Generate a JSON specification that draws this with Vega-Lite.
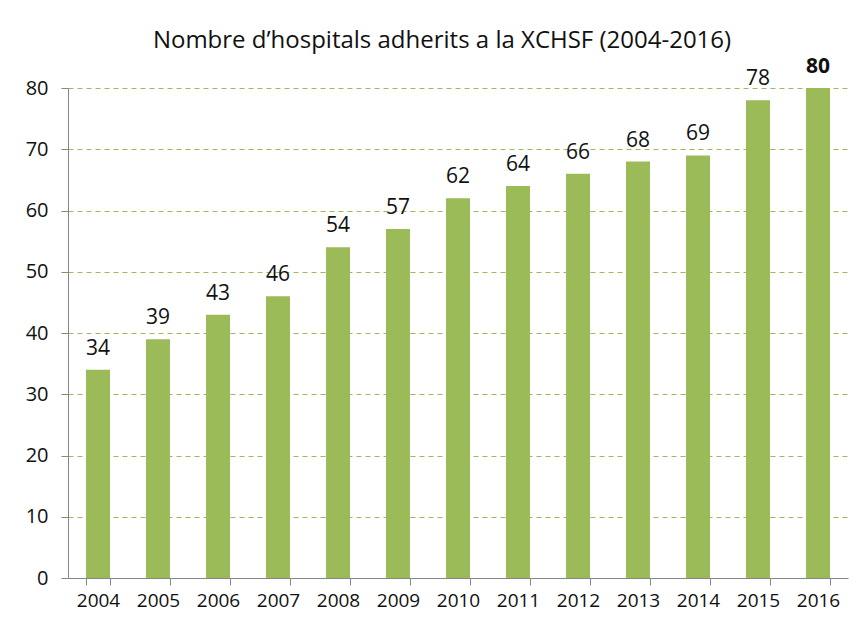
{
  "$schema": "https://vega.github.io/schema/vega-lite/v6.json",
  "width": 780,
  "height": 490,
  "autosize": {"type": "none"},
  "padding": {"left": 68, "top": 88, "right": 15, "bottom": 52},
  "background": "white",
  "title": {
    "text": "Nombre d’hospitals adherits a la XCHSF (2004-2016)",
    "font": "Open Sans",
    "fontSize": 24,
    "fontWeight": "normal",
    "color": "#111111",
    "anchor": "middle",
    "dx": -16,
    "offset": 3
  },
  "config": {
    "view": {"stroke": null},
    "font": "Open Sans"
  },
  "data": {
    "values": [
      {"year": "2004", "value": 34, "bold": "n"},
      {"year": "2005", "value": 39, "bold": "n"},
      {"year": "2006", "value": 43, "bold": "n"},
      {"year": "2007", "value": 46, "bold": "n"},
      {"year": "2008", "value": 54, "bold": "n"},
      {"year": "2009", "value": 57, "bold": "n"},
      {"year": "2010", "value": 62, "bold": "n"},
      {"year": "2011", "value": 64, "bold": "n"},
      {"year": "2012", "value": 66, "bold": "n"},
      {"year": "2013", "value": 68, "bold": "n"},
      {"year": "2014", "value": 69, "bold": "n"},
      {"year": "2015", "value": 78, "bold": "n"},
      {"year": "2016", "value": 80, "bold": "y"}
    ]
  },
  "encoding": {
    "x": {
      "field": "year",
      "type": "ordinal",
      "scale": {"paddingInner": 0.6, "paddingOuter": 0.3},
      "axis": {
        "title": null,
        "labelAngle": 0,
        "labelFontSize": 19,
        "labelColor": "#111111",
        "labelPadding": 6,
        "domainColor": "#868686",
        "tickColor": "#868686",
        "tickBand": "extent",
        "tickSize": 7,
        "grid": false
      }
    },
    "y": {
      "field": "value",
      "type": "quantitative",
      "scale": {"domain": [0, 80], "nice": false},
      "axis": {
        "title": null,
        "values": [0, 10, 20, 30, 40, 50, 60, 70, 80],
        "labelFontSize": 20,
        "labelColor": "#111111",
        "labelPadding": 13,
        "domainColor": "#868686",
        "tickColor": "#868686",
        "tickSize": 7,
        "grid": true,
        "gridColor": "#9BBB59",
        "gridDash": [5, 4],
        "gridWidth": 1
      }
    }
  },
  "layer": [
    {
      "mark": {"type": "bar", "color": "#9BBB59"}
    },
    {
      "transform": [{"filter": "datum.bold == 'n'"}],
      "mark": {"type": "text", "baseline": "bottom", "dy": -11, "fontSize": 21, "color": "#111111"},
      "encoding": {
        "text": {"field": "value", "type": "quantitative"}
      }
    },
    {
      "transform": [{"filter": "datum.bold == 'y'"}],
      "mark": {"type": "text", "baseline": "bottom", "dy": -11, "fontSize": 21, "fontWeight": "bold", "color": "#111111"},
      "encoding": {
        "text": {"field": "value", "type": "quantitative"}
      }
    }
  ]
}
